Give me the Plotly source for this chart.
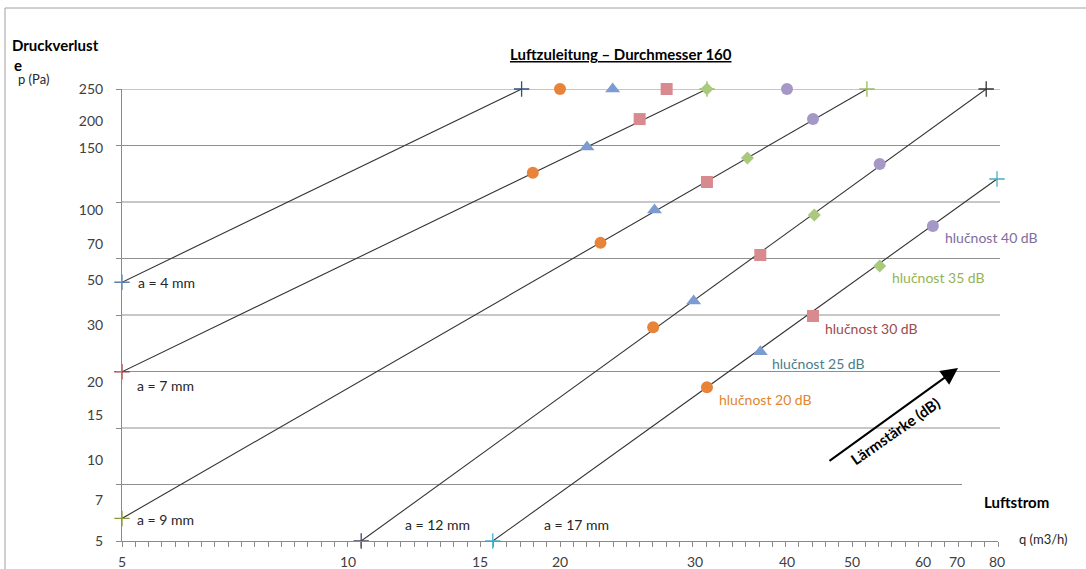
import numpy as np
import plotly.graph_objects as go

# ---- axis definition: tick values and where the chart places them ----
Q_TICKS = [5, 10, 15, 20, 30, 40, 50, 60, 70, 80]
Q_POS = [0, 226, 358, 438, 573, 665, 730, 801, 835, 875]
P_TICKS = [5, 7, 10, 15, 20, 30, 50, 70, 100, 150, 200, 250]
P_POS = [0, 41, 81, 126, 159, 216, 261, 297, 331, 393, 420, 452]

# ---- pressure-loss lines (gap a) ----
line_labels = ["a = 4 mm", "a = 7 mm", "a = 9 mm", "a = 12 mm", "a = 17 mm"]
line_q_start = [5, 5, 5, 10.5, 15.8]
line_p_start = [49, 21.8, 6.1, 5, 5]
line_q_end = [17.6, 31.3, 52.1, 77.3, 80]
line_p_end = [250, 250, 250, 250, 125]

# ---- noise level points ----
db_labels = ["hlučnost 20 dB", "hlučnost 25 dB", "hlučnost 30 dB", "hlučnost 35 dB", "hlučnost 40 dB"]
q_20 = [20.0, 18.3, 23.0, 26.9, 31.3]
p_20 = [250, 130, 71, 29.6, 19.2]
q_25 = [23.9, 22.0, 27.0, 29.9, 37.1]
p_25 = [250, 152, 100, 40.7, 25.3]
q_30 = [27.9, 25.9, 31.3, 37.1, 44.0]
p_30 = [250, 203, 122.6, 63.9, 34.0]
q_35 = [31.3, 35.7, 44.2, 53.9]
p_35 = [250, 141.9, 95.6, 57.8]
q_40 = [40.0, 44.0, 53.9, 62.9]
p_40 = [250, 203, 137.1, 85.9]


def qs(q):
    return np.interp(q, Q_TICKS, Q_POS)


def ps(p):
    return np.interp(p, P_TICKS, P_POS)


W, H = 876.0, 452.0  # plot area size in axis units


def px(x):
    return (x - 122) / W


def py(y):
    return (541 - y) / H


FONT = "Lato, Calibri, 'Open Sans', sans-serif"
fig = go.Figure()

start_cols = ["#5b7fa8", "#a03c3c", "#8e9c3c", "#4a3f66", "#3fb0cf"]
end_cols = ["#2f4f7f", "#9bbb59", "#9bbb59", "#333333", "#4bacc6"]
for i, lab in enumerate(line_labels):
    xs = qs([line_q_start[i], line_q_end[i]])
    ys = ps([line_p_start[i], line_p_end[i]])
    fig.add_trace(go.Scatter(x=xs, y=ys, mode="lines", line=dict(color="#333333", width=1.1),
                             showlegend=False, hoverinfo="skip", cliponaxis=False))
    fig.add_trace(go.Scatter(x=xs, y=ys, mode="markers",
                             marker=dict(symbol="cross-thin", size=11,
                                         line=dict(width=1.3, color=[start_cols[i], end_cols[i]])),
                             showlegend=False, cliponaxis=False))

db_q = [q_20, q_25, q_30, q_35, q_40]
db_p = [p_20, p_25, p_30, p_35, p_40]
db_sym = ["circle", "triangle-up", "square", "diamond", "circle"]
db_size = [12, 13, 12, 10, 12]
db_col = ["#e8833a", "#7b9bd1", "#d98a8e", "#a9c97c", "#a597c6"]
db_txt = ["#e2852f", "#4a7d8c", "#a0494c", "#93b453", "#7e6d9f"]
for i, lab in enumerate(db_labels):
    fig.add_trace(go.Scatter(x=qs(db_q[i]), y=ps(db_p[i]), mode="markers", name=lab,
                             marker=dict(symbol=db_sym[i], size=db_size[i], color=db_col[i],
                                         line=dict(width=0)),
                             showlegend=False, cliponaxis=False))
    fig.add_annotation(x=qs(db_q[i][-1]), y=ps(db_p[i][-1]), text=lab, showarrow=False,
                       xanchor="left", yanchor="middle", xshift=10, yshift=-12,
                       font=dict(family=FONT, size=14, color=db_txt[i]))

# line labels
lab_shift = [(14, 0), (13, -14), (13, -1), (42, 17), (49, 17)]
for i, lab in enumerate(line_labels):
    fig.add_annotation(x=qs(line_q_start[i]), y=ps(line_p_start[i]), text=lab, showarrow=False,
                       xanchor="left", yanchor="middle", xshift=lab_shift[i][0], yshift=lab_shift[i][1],
                       font=dict(family=FONT, size=14, color="#262626"))

# gridlines
shapes = []
for k in range(1, 9):
    x1 = px(962) if k == 1 else px(1000)
    shapes.append(dict(type="line", xref="paper", yref="y", x0=0, x1=x1, y0=k * 56.5, y1=k * 56.5,
                       line=dict(color="#8f8f8f", width=1), layer="below"))
# outer frame
shapes.append(dict(type="line", xref="paper", yref="paper", x0=px(5), x1=px(1090), y0=py(8), y1=py(8),
                   line=dict(color="#a0a0a0", width=1)))
shapes.append(dict(type="line", xref="paper", yref="paper", x0=px(5), x1=px(5), y0=py(8), y1=py(575),
                   line=dict(color="#a0a0a0", width=1)))

# texts
def ptext(x, y, text, size, color="#000000", xanchor="left"):
    fig.add_annotation(xref="paper", yref="paper", x=px(x), y=py(y), text=text, showarrow=False,
                       xanchor=xanchor, yanchor="middle", font=dict(family=FONT, size=size, color=color))


ptext(621, 54, "<b><u>Luftzuleitung – Durchmesser 160</u></b>", 15, xanchor="center")
ptext(10, 45, "<b>Druckverlust</b>", 15)
ptext(12, 65, "<b>e</b>", 15)
ptext(16, 79, "p (Pa)", 13, "#262626")
ptext(982, 502, "<b>Luftstrom</b>", 15)
ptext(1017, 539, "q (m3/h)", 13, "#262626")

# arrow
fig.add_annotation(xref="paper", yref="paper", x=px(958), y=py(368), ax=-130, ay=94, text="",
                   showarrow=True, arrowhead=2, arrowsize=1.7, arrowwidth=2, arrowcolor="#000000")
ptext(895, 431, "<b>Lärmstärke (dB)</b>", 15, xanchor="center")
fig.layout.annotations[-1].textangle = -35

fig.update_layout(
    width=1086, height=569,
    margin=dict(l=122, r=88, t=89, b=28, autoexpand=False),
    paper_bgcolor="white", plot_bgcolor="white",
    showlegend=False,
    shapes=shapes,
    xaxis=dict(range=[0, W], tickmode="array", tickvals=Q_POS, ticktext=[str(v) for v in Q_TICKS],
               showgrid=False, zeroline=False, showline=True, linecolor="#8a8a8a", linewidth=1,
               ticks="", ticklabelstandoff=8, automargin=False,
               minor=dict(tick0=0, dtick=W / 66, ticks="outside", ticklen=5, tickcolor="#8a8a8a",
                          showgrid=False),
               tickfont=dict(family=FONT, size=14, color="#404040")),
    yaxis=dict(range=[0, H], tickmode="array", tickvals=P_POS, ticktext=[str(v) for v in P_TICKS],
               showgrid=False, zeroline=False, showline=True, linecolor="#8a8a8a", linewidth=1,
               ticks="", ticklabelstandoff=15, automargin=False,
               minor=dict(tick0=0, dtick=56.5, ticks="outside", ticklen=5, tickcolor="#8a8a8a",
                          showgrid=False),
               tickfont=dict(family=FONT, size=14, color="#404040")),
)

fig.write_html("out.html", config={"displayModeBar": False},
               post_script="document.body.style.margin='0';")
